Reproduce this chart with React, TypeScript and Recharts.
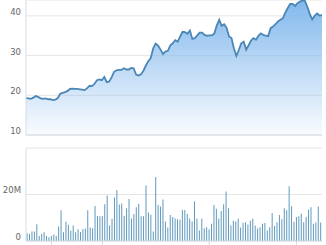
import React from 'react';
import {
  AreaChart, Area, BarChart, Bar, XAxis, YAxis, CartesianGrid,
} from 'recharts';

// closing price, one per trading day
const price = [
  19.3, 19.2, 19.1, 19.4, 19.8, 19.6, 19.2, 19.1, 19.2, 19.0,
  19.0, 18.8, 18.9, 19.3, 20.4, 20.6, 20.8, 21.1, 21.6, 21.7,
  21.6, 21.6, 21.5, 21.4, 21.3, 21.8, 22.4, 22.3, 22.9, 23.8,
  24.0, 23.8, 24.6, 23.3, 23.5, 24.5, 25.9, 26.3, 26.4, 26.4,
  26.8, 26.5, 26.5, 26.9, 26.8, 25.2, 25.0, 25.3, 26.2, 27.5,
  28.6, 29.4, 31.8, 33.0, 32.5, 31.5, 30.4, 31.0, 31.2, 32.6,
  33.1, 33.9, 33.5, 34.8, 36.0, 35.9, 35.5, 36.3, 34.2, 34.4,
  35.1, 35.8, 35.8, 35.2, 35.0, 35.1, 35.1, 35.6, 37.6, 39.0,
  37.5, 37.9, 37.0, 34.8, 34.4, 31.8, 29.9, 31.4, 33.1, 33.5,
  31.5, 32.6, 33.8, 34.4, 34.0, 35.0, 35.6, 35.2, 35.0, 34.9,
  36.9, 37.3, 37.9, 38.6, 39.0, 39.4, 40.8, 42.0, 43.0, 43.0,
  42.5, 43.2, 43.6, 43.9, 43.8, 42.3, 40.5, 39.1, 40.0, 40.6,
  40.1, 40.2,
];

// volume in millions
const volume = [
  3.3, 3.0, 4.1, 4.1, 7.2, 2.2, 3.0, 3.8, 2.2, 1.6,
  2.2, 2.8, 2.2, 6.2, 13.2, 3.8, 8.3, 7.0, 4.5, 6.7,
  3.8, 5.1, 3.9, 5.2, 5.4, 13.2, 5.8, 5.5, 15.1, 10.7,
  10.6, 10.7, 15.8, 19.6, 6.7, 9.6, 18.7, 21.9, 15.7, 16.1,
  10.9, 14.1, 18.1, 9.7, 11.6, 14.5, 15.9, 10.6, 10.6, 23.9,
  12.3, 11.3, 4.1, 27.5, 15.5, 14.8, 17.8, 8.4, 5.8, 11.2,
  10.3, 9.7, 9.4, 9.1, 13.3, 13.3, 11.7, 9.7, 8.4, 17.1,
  9.7, 4.5, 9.6, 5.5, 5.9, 5.1, 7.4, 15.5, 13.9, 9.7,
  12.9, 15.8, 21.3, 14.1, 6.7, 8.7, 8.4, 9.6, 5.8, 7.8,
  8.1, 7.1, 8.7, 9.6, 6.7, 5.4, 5.9, 7.4, 7.7, 4.5,
  5.9, 12.0, 6.4, 8.1, 11.2, 9.4, 14.1, 13.2, 23.6, 14.9,
  8.3, 10.3, 10.6, 11.7, 8.1, 10.3, 13.5, 14.5, 7.4, 8.0,
  14.8, 8.0,
];

const days = price.map((_, i) => i);
const monthTicks = [10, 31, 75, 111];
const priceTicks = [10, 20, 30, 40];
const volumeTicks = [0, 20, 40];

const data = days.map((d, i) => ({ day: d, price: price[i], volume: volume[i] }));

const gridColor = '#e6e6e6';
const axisColor = '#d6dde8';

const AxisTick = ({ x, y, payload, fmt }: any) => {
  const label = fmt ? fmt(payload.value) : String(payload.value);
  if (!label) return null;
  return (
    <text x={x} y={y - 4} dy="0.35em" textAnchor="end" fontSize={8.5}
      fontFamily="DejaVu Sans, sans-serif" fill="#666">
      {label}
    </text>
  );
};

export default function App() {
  return (
    <div style={{ position: 'absolute', left: 0, top: 0, width: 326, height: 245, background: '#fff' }}>
      <AreaChart width={326} height={140} data={data} margin={{ top: 0, right: 4, bottom: 0, left: 0 }}>
        <defs>
          <linearGradient id="priceFill" x1="0" y1="0" x2="0" y2="1">
            <stop offset="0%" stopColor="#7cb5ec" stopOpacity={0.95} />
            <stop offset="100%" stopColor="#7cb5ec" stopOpacity={0.04} />
          </linearGradient>
        </defs>
        <CartesianGrid stroke={gridColor} vertical={false} />
        <XAxis dataKey="day" height={5} tick={false} tickLine={false} stroke={axisColor} />
        <YAxis width={26} domain={[10, 44]} ticks={priceTicks} interval={0} allowDataOverflow
          tickLine={false} tickSize={0} tickMargin={5} stroke={axisColor}
          tick={<AxisTick />} />
        <Area type="linear" dataKey="price" stroke="#4a87b6" strokeWidth={1.8}
          fill="url(#priceFill)" fillOpacity={1} baseValue={10} isAnimationActive={false} />
      </AreaChart>
      <BarChart width={326} height={105} data={data} barCategoryGap="25%"
        margin={{ top: 8, right: 4, bottom: 0, left: 0 }}>
        <CartesianGrid stroke={gridColor} vertical={false} />
        <XAxis dataKey="day" height={4} ticks={monthTicks} interval={0} tickSize={4}
          tickFormatter={() => ''} stroke={axisColor} />
        <YAxis width={26} domain={[0, 40]} ticks={volumeTicks} interval={0}
          tickLine={false} tickSize={0} tickMargin={5} stroke={axisColor}
          tick={<AxisTick fmt={(v: number) => (v === 40 ? '' : v === 0 ? '0' : `${v}M`)} />} />
        <Bar dataKey="volume" fill="#5f99bd" isAnimationActive={false} />
      </BarChart>
    </div>
  );
}
